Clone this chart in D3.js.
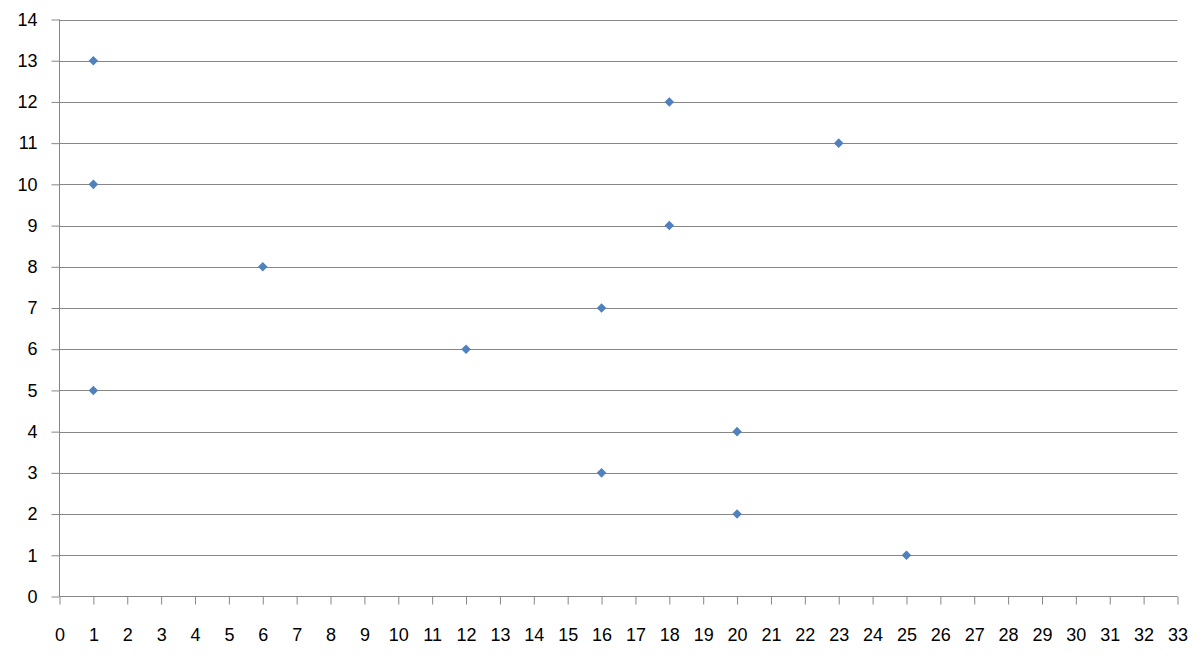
<!DOCTYPE html>
<html><head><meta charset="utf-8">
<script src="https://cdn.jsdelivr.net/npm/d3@7"></script>
<style>body{margin:0;background:#fff}svg{display:block}text{font-family:"Liberation Sans",Arial,sans-serif;font-size:18px;fill:#000}</style>
</head><body>
<script>
const xValues = [1, 1, 1, 6, 12, 16, 16, 18, 18, 20, 20, 23, 25];
const yValues = [13, 10, 5, 8, 6, 7, 3, 12, 9, 4, 2, 11, 1];
const xTicks = d3.range(0, 34);
const yTicks = d3.range(0, 15);

const W = 1201, H = 662;
const m = {left: 59.5, right: 1177.5, top: 19.5, bottom: 596.5};
const svg = d3.select("body").append("svg").attr("width", W).attr("height", H);
const x = d3.scaleLinear().domain([0, 33]).range([m.left, m.right]);
const y = d3.scaleLinear().domain([0, 14]).range([m.bottom, m.top]);
const grid = "#868686";

svg.append("g").selectAll("line").data(yTicks.filter(d => d > 0)).join("line")
  .attr("x1", m.left).attr("x2", m.right)
  .attr("y1", d => Math.round(y(d)) + 0.5).attr("y2", d => Math.round(y(d)) + 0.5)
  .attr("stroke", grid).attr("stroke-width", 1);

const ya = svg.append("g").attr("transform", `translate(${m.left},0)`)
  .call(d3.axisLeft(y).tickValues(yTicks).tickSize(8).tickPadding(14).tickFormat(d3.format("d")));
ya.select(".domain").attr("stroke", grid).attr("d", `M0,${m.bottom}V${m.top}`);
ya.selectAll(".tick line").attr("stroke", grid);
ya.selectAll(".tick text").attr("font-size", 19).attr("fill", "#000")
  .attr("font-family", "Liberation Sans, Arial, sans-serif");

const xa = svg.append("g").attr("transform", `translate(0,${m.bottom})`)
  .call(d3.axisBottom(x).tickValues(xTicks).tickSize(8).tickPadding(24).tickFormat(d3.format("d")));
xa.select(".domain").attr("stroke", grid).attr("d", `M${m.left},0H${m.right}`);
xa.selectAll(".tick line").attr("stroke", grid);
xa.selectAll(".tick text").attr("font-size", 19).attr("fill", "#000")
  .attr("font-family", "Liberation Sans, Arial, sans-serif");

const sym = d3.symbol().type(d3.symbolDiamond2).size(58);
svg.append("g").selectAll("path").data(xValues.map((v, i) => [v, yValues[i]])).join("path")
  .attr("d", sym)
  .attr("transform", d => `translate(${x(d[0])},${y(d[1])})`)
  .attr("fill", "#4F81BD");
</script>
</body></html>
